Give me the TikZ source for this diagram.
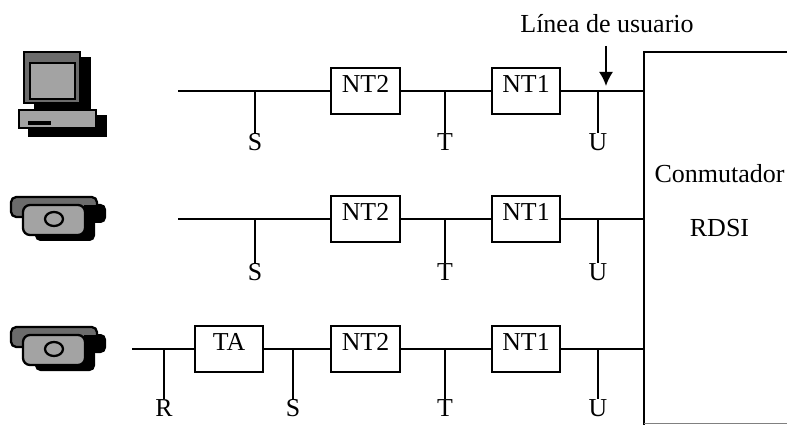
\documentclass[tikz,border=0pt]{standalone}
\usepackage{fontspec}
\setmainfont{Liberation Serif}
\usetikzlibrary{arrows.meta,calc}

\definecolor{darkpart}{gray}{0.42}
\definecolor{lightpart}{gray}{0.64}

\tikzset{
  wire/.style={line width=1.2pt},
  unitbox/.style={draw,line width=1.2pt,minimum width=39pt,minimum height=26pt,inner sep=0pt,text depth=8pt,font=\fontsize{14.7}{16}\selectfont},
  reflabel/.style={inner sep=0pt,font=\fontsize{14.7}{16}\selectfont},
  textlabel/.style={font=\fontsize{14.8}{17}\selectfont},
  iconline/.style={draw=black,line width=1.3pt},
  pics/camera/.style={code={
    \fill[rounded corners=3pt] (35,206) rectangle (95,241);
    \fill[rounded corners=3pt] (90,204) rectangle (106,223);
    \draw[iconline,fill=darkpart,rounded corners=3pt] (11,197) -- (97,197) -- (97,217) -- (11,217) -- cycle;
    \fill (84,205) rectangle (97,222);
    \draw[iconline,fill=lightpart,rounded corners=4pt] (23,205) rectangle (85,235);
    \draw[iconline,fill=lightpart] (54,219) ellipse (9 and 7);
  }}
}

\begin{document}
\begin{tikzpicture}[>=Latex,x=0.02cm,y=-0.02cm]
  \useasboundingbox (0,0) rectangle (787,425);

  % terminals
  \fill (34,57) rectangle (91,112);
  \fill (28,115) rectangle (107,137);
  \draw[iconline,fill=darkpart] (24,52) rectangle (80,103);
  \draw[iconline,line width=1.6pt,fill=lightpart] (30,63) rectangle (75,99);
  \draw[iconline,line width=1.6pt,fill=lightpart] (19,110) rectangle (96,128);
  \draw[iconline,line width=1.8pt] (28,123) -- (51,123);
  \pic at (0,0) {camera};
  \pic at (0,130) {camera};

  % exchange
  \draw[wire] (787,52) -- (644,52) -- (644,425);
  \draw[gray,line width=0.4pt] (644,423.5) -- (787,423.5);
  \node[textlabel] (conm) at (719.5,174) {Conmutador};
  \node[textlabel] (rdsi) at (719.5,228) {RDSI};

  % the three lines
  \foreach \r/\y/\ly in {a/91/142,b/219/272,c/349/408} {
    \node[unitbox] (nttwo\r) at (365.5,\y) {NT2};
    \node[unitbox] (ntone\r) at (526,\y) {NT1};
    \coordinate (end\r) at (644,\y);
    \coordinate (tj\r) at (445,\y);
    \coordinate (uj\r) at (598,\y);
    \node[reflabel] (t\r) at (445,\ly) {T};
    \node[reflabel] (u\r) at (598,\ly) {U};
    \draw[wire] (nttwo\r) -- (ntone\r);
    \draw[wire] (ntone\r) -- (end\r);
    \draw[wire] (tj\r) -- (t\r.north);
    \draw[wire] (uj\r) -- (u\r.north);
  }
  \foreach \r/\y/\ly in {a/91/142,b/219/272} {
    \coordinate (start\r) at (178,\y);
    \coordinate (sj\r) at (255,\y);
    \node[reflabel] (s\r) at (255,\ly) {S};
    \draw[wire] (start\r) -- (nttwo\r);
    \draw[wire] (sj\r) -- (s\r.north);
  }

  % adapter on the last line
  \node[unitbox] (ta) at (229,349) {TA};
  \coordinate (startc) at (132,349);
  \coordinate (rj) at (164,349);
  \coordinate (sjc) at (293,349);
  \node[reflabel] (r) at (164,408) {R};
  \node[reflabel] (sc) at (293,408) {S};
  \draw[wire] (startc) -- (ta);
  \draw[wire] (ta) -- (nttwoc);
  \draw[wire] (rj) -- (r.north);
  \draw[wire] (sjc) -- (sc.north);

  % user line
  \node[textlabel] (user) at (607,24) {Línea de usuario};
  \coordinate (arrowtop) at (606,46);
  \coordinate (arrowend) at (606,86);
  \draw[->,line width=1pt,>={Latex[length=8pt,width=8pt]}] (arrowtop) -- (arrowend);
\end{tikzpicture}
\end{document}
